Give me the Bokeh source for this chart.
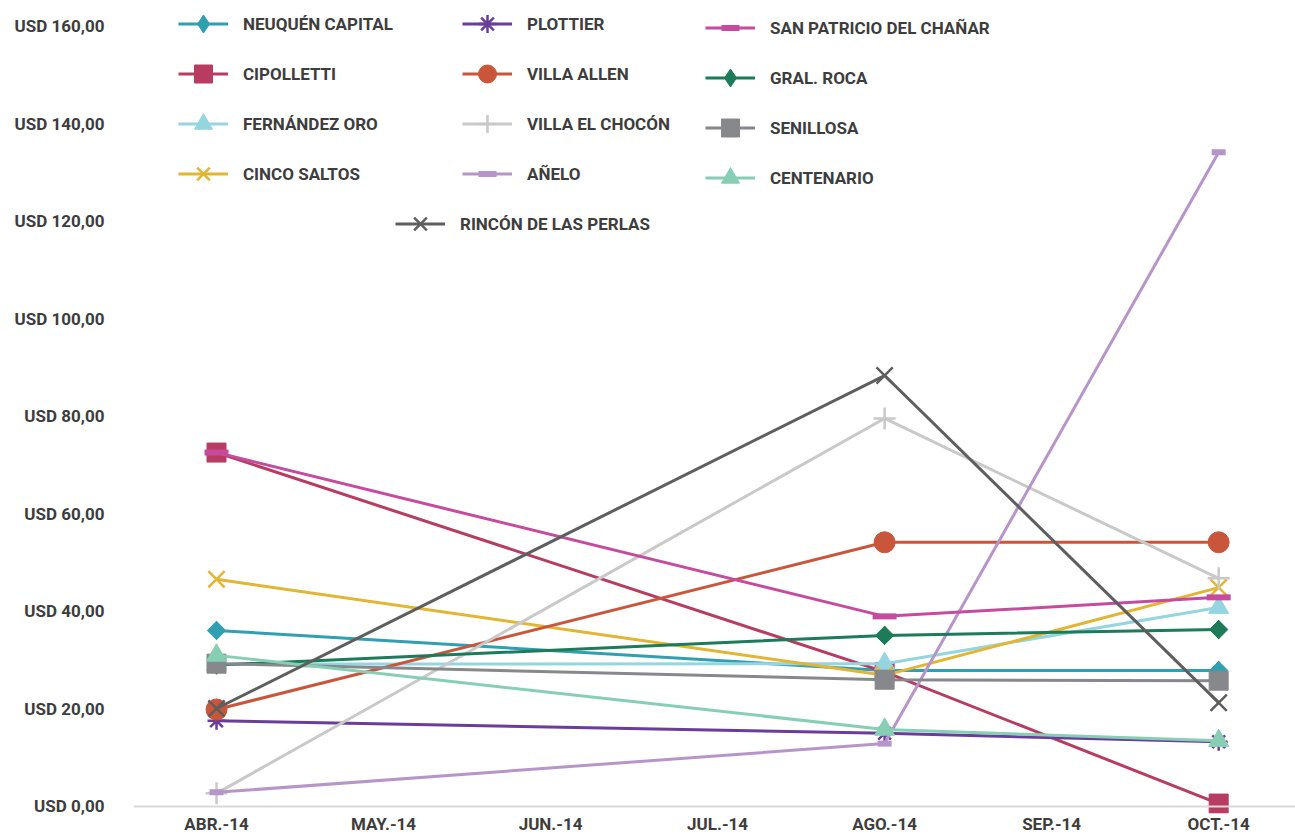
import math
from bokeh.plotting import figure
from bokeh.models import Range1d, FixedTicker, Legend, LegendItem, Span
from bokeh.embed import file_html
from bokeh.resources import INLINE

months = ["ABR.-14", "MAY.-14", "JUN.-14", "JUL.-14", "AGO.-14", "SEP.-14", "OCT.-14"]
data_months = ["ABR.-14", "AGO.-14", "OCT.-14"]
y_ticks = [0, 20, 40, 60, 80, 100, 120, 140, 160]
y_tick_labels = ["USD 0,00", "USD 20,00", "USD 40,00", "USD 60,00", "USD 80,00",
                 "USD 100,00", "USD 120,00", "USD 140,00", "USD 160,00"]

series_names = ["NEUQUÉN CAPITAL", "CIPOLLETTI", "FERNÁNDEZ ORO", "CINCO SALTOS",
                "PLOTTIER", "VILLA ALLEN", "VILLA EL CHOCÓN", "AÑELO",
                "SAN PATRICIO DEL CHAÑAR", "GRAL. ROCA", "SENILLOSA", "CENTENARIO",
                "RINCÓN DE LAS PERLAS"]
neuquen = [36.1, 27.9, 27.9]
cipolletti = [72.6, 27.6, 0.6]
fernandez_oro = [29.2, 29.3, 40.8]
cinco_saltos = [46.6, 26.9, 44.9]
plottier = [17.6, 15.0, 13.3]
villa_allen = [19.9, 54.2, 54.2]
villa_el_chocon = [2.7, 79.6, 46.8]
anelo = [2.9, 12.9, 134.2]
san_patricio = [72.6, 39.0, 42.9]
gral_roca = [29.0, 35.1, 36.3]
senillosa = [29.3, 26.0, 25.8]
centenario = [31.0, 15.8, 13.5]
rincon = [20.1, 88.4, 21.3]
series_values = [neuquen, cipolletti, fernandez_oro, cinco_saltos, plottier, villa_allen,
                 villa_el_chocon, anelo, san_patricio, gral_roca, senillosa, centenario, rincon]

colors = ["#2f9fb1", "#b83c62", "#95d5df", "#e2b633", "#6a3d9a", "#c9553b", "#c9c9c9",
          "#b795c9", "#c64b9f", "#1c7b59", "#87888b", "#86cfb5", "#5e5e5e"]
# marker: (type, size, angle, style)
markers = [("diamond", 13, math.pi / 4, "fill"), ("square", 19, 0, "fill"),
           ("triangle", 20, 0, "fill"), ("x", 23, 0, "line"), ("asterisk", 18, 0, "line"),
           ("circle", 21, 0, "fill"), ("cross", 22, 0, "line"), ("dash", 14, 0, "bar"),
           ("dash", 24, 0, "bar"), ("diamond", 13, math.pi / 4, "fill"),
           ("square", 19, 0, "fill"), ("triangle", 20, 0, "fill"), ("x", 23, 0, "line")]

FONT = "Roboto"
TXT = "#3d3d3d"
FS = "17px"

p = figure(width=1295, height=836, output_backend="svg", toolbar_location=None,
           x_range=Range1d(-0.497, 6.46), y_range=Range1d(-1.436, 165.33),
           min_border_left=133, min_border_right=0, min_border_top=0, min_border_bottom=0)
p.outline_line_color = None
p.xgrid.visible = False
p.ygrid.visible = False

# baseline at zero
p.add_layout(Span(location=0, dimension="width", line_color="#d9d9d9", line_width=2))

xi = [months.index(m) for m in data_months]

items = []
for name, vals, col, mk in zip(series_names, series_values, colors, markers):
    lr = p.line(xi, vals, line_color=col, line_width=3)
    mtype, size, ang, style = mk
    legend_rs = [lr]
    if style == "bar":
        mr = p.scatter(xi, vals, marker="dash", size=size, line_color=col, line_width=6,
                       line_cap="butt")
        legend_rs.append(mr)
    elif mtype == "diamond":
        # narrow diamond (used by the legend), covered by an Excel-like rotated square
        lg_r = p.scatter(xi, vals, marker="diamond", size=18, fill_color=col, line_color=col)
        p.scatter(xi, vals, marker="square", size=size, angle=ang, fill_color=col,
                  line_color=col, line_width=1)
        legend_rs.append(lg_r)
    elif style == "fill":
        mr = p.scatter(xi, vals, marker=mtype, size=size, fill_color=col,
                       line_color=col, line_width=1)
        legend_rs.append(mr)
    else:
        mr = p.scatter(xi, vals, marker=mtype, size=size, line_color=col, line_width=2.5,
                       fill_color=None)
        legend_rs.append(mr)
    items.append(LegendItem(label=name, renderers=legend_rs))


def make_legend(its, loc):
    lg = Legend(items=its, location=loc, orientation="vertical",
                glyph_width=50, glyph_height=45, label_height=20, label_standoff=15,
                spacing=5, padding=0, margin=0, border_line_color=None,
                background_fill_alpha=0, label_text_font=FONT, label_text_font_style="bold",
                label_text_font_size=FS, label_text_color=TXT)
    p.add_layout(lg, "center")


make_legend(items[0:4], (45, 617))
make_legend(items[4:8], (329, 617))
make_legend(items[8:12], (572, 613))
make_legend(items[12:13], (262, 567))

p.xaxis.ticker = FixedTicker(ticks=list(range(len(months))))
p.xaxis.major_label_overrides = {i: m for i, m in enumerate(months)}
p.xaxis.axis_line_color = None
p.xaxis.major_tick_line_color = None
p.xaxis.minor_tick_line_color = None
p.xaxis.major_tick_out = 0
p.xaxis.major_tick_in = 0
p.xaxis.minor_tick_out = 0
p.xaxis.major_label_standoff = 0
p.xaxis.major_label_text_font = FONT
p.xaxis.major_label_text_font_style = "bold"
p.xaxis.major_label_text_font_size = FS
p.xaxis.major_label_text_color = TXT

p.yaxis.ticker = FixedTicker(ticks=y_ticks)
p.yaxis.major_label_overrides = {t: l for t, l in zip(y_ticks, y_tick_labels)}
p.yaxis.axis_line_color = None
p.yaxis.major_tick_line_color = None
p.yaxis.minor_tick_line_color = None
p.yaxis.major_tick_out = 0
p.yaxis.major_tick_in = 0
p.yaxis.minor_tick_out = 0
p.yaxis.major_label_standoff = 29
p.yaxis.major_label_text_font = FONT
p.yaxis.major_label_text_font_style = "bold"
p.yaxis.major_label_text_font_size = FS
p.yaxis.major_label_text_color = TXT

open("out.html", "w").write(file_html(p, INLINE))
